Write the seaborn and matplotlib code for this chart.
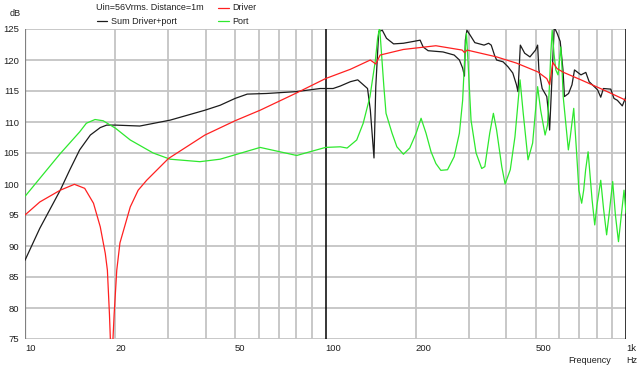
import numpy as np
import pandas as pd
import matplotlib
matplotlib.use("Agg")
import matplotlib.pyplot as plt
import seaborn as sns
from matplotlib.lines import Line2D

# Driver alone (Hz, dB)
driver = [(10, 95.0), (11.2, 97.1), (13.1, 99.0), (14.6, 99.95), (15.8, 99.3), (16.9, 96.9),
          (17.8, 93.1), (18.5, 88.8), (18.8, 86.1), (19.1, 79.0), (19.4, 70.0), (19.8, 79.0),
          (20.2, 86.1), (20.7, 90.5), (22.4, 96.3), (23.8, 99.0), (25.4, 100.6), (30, 104.1),
          (39.7, 107.9), (50, 110.2), (60.6, 111.9), (80.2, 114.7), (100, 117.0), (121, 118.5),
          (141, 120.0), (147, 119.35), (152, 120.8), (181.6, 121.7), (233, 122.3), (285, 121.6),
          (290, 121.2), (296, 121.6), (371, 120.5), (432, 119.5), (508, 118.1), (545, 117.0),
          (557, 116.0), (571, 119.6), (590, 118.6), (620, 118.0), (708, 116.8), (840, 115.2),
          (1000, 113.5)]

# Sum driver + port
total = [(10, 87.7), (11.2, 92.85), (13.1, 99.0), (14.1, 102.3), (15.2, 105.5), (16.5, 107.9),
         (17.8, 109.1), (18.7, 109.5), (20, 109.5), (24.1, 109.35), (30.4, 110.3), (39.7, 111.9),
         (44.6, 112.7), (50, 113.8), (54.9, 114.5), (63.7, 114.6), (80, 114.9), (96, 115.4),
         (106, 115.4), (112, 115.8), (121, 116.5), (128, 116.8), (138, 115.4), (141, 111.9),
         (145, 104.2), (147, 115.7), (150.4, 124.6), (154.5, 124.8), (159.6, 123.5),
         (168.5, 122.6), (181.6, 122.7), (196.4, 123.0), (206.5, 123.2), (211.3, 122.1),
         (219.5, 121.5), (246, 121.3), (268, 120.8), (279, 120.0), (286, 118.7), (290, 117.4),
         (292, 123.2), (295.5, 124.8), (303, 124.0), (314, 122.8), (337, 122.4), (349, 122.7),
         (356, 122.4), (365, 120.8), (371, 120.0), (390, 119.7), (405, 118.9), (420, 117.9),
         (432, 116.0), (437, 114.9), (445, 122.4), (460, 121.1), (479, 120.5), (500, 121.6),
         (508, 122.4), (513, 118.4), (526, 115.4), (545, 114.1), (552, 111.5), (557, 108.7),
         (566, 116.2), (577, 125.3), (590, 124.3), (604, 123.0), (617, 118.4), (624, 114.1),
         (644, 114.6), (661, 116.0), (674, 118.4), (708, 117.6), (735, 118.0), (754, 116.5),
         (804, 115.2), (824, 114.0), (841, 115.4), (890, 115.3), (912, 113.8), (936, 113.5),
         (972, 112.6), (1000, 114.1)]

# Port alone
port = [(10, 98.0), (11.2, 100.9), (13.1, 104.9), (15.2, 108.4), (16.0, 109.8), (17.1, 110.4),
        (18.2, 110.2), (20, 109.0), (22.4, 107.1), (26.7, 105.0), (30.4, 104.0), (38.2, 103.6),
        (44.6, 104.0), (60.6, 105.9), (80.2, 104.6), (100, 105.9), (112, 106.0), (118, 105.8),
        (127, 107.1), (133.5, 109.8), (140.6, 114.1), (146.6, 120.0), (149, 123.4),
        (151.4, 125.3), (156.4, 115.7), (159, 111.4), (166.5, 108.2), (172.8, 106.0),
        (181.7, 104.8), (190.7, 105.8), (200.3, 108.2), (208, 110.6), (216, 108.2),
        (224.5, 105.2), (233, 103.3), (242, 102.2), (254.7, 102.3), (268, 104.4), (279, 108.2),
        (286, 113.5), (291, 121.1), (294.5, 124.3), (299, 118.4), (305, 110.3), (317, 105.0),
        (331, 102.5), (339, 102.8), (352, 108.2), (362, 111.4), (371, 108.7), (386, 102.8),
        (396, 100.0), (412, 102.3), (427, 107.6), (444, 116.8), (455, 111.4), (472, 103.9),
        (489, 106.6), (508, 115.7), (520, 111.9), (538, 107.9), (548, 109.5), (556, 115.7),
        (562, 121.0), (568, 124.8), (576, 121.0), (584, 118.4), (594, 117.6), (607, 122.1),
        (612, 119.0), (618, 114.1), (635, 108.2), (643, 105.5), (652, 107.5), (670, 112.2),
        (685, 105.0), (697, 99.0), (712, 96.9), (723, 99.0), (734, 102.3), (748, 105.2),
        (771, 97.5), (787, 93.4), (800, 96.5), (824, 100.6), (842, 96.0), (862, 91.8),
        (878, 95.0), (903, 100.4), (922, 95.0), (944, 90.7), (965, 95.0), (985, 99.0),
        (1000, 95.3)]

grid_f = [20, 30, 40, 50, 60, 70, 80, 90, 200, 300, 400, 500, 600, 700, 800, 900]
grid_db = [75, 80, 85, 90, 95, 100, 105, 110, 115, 120, 125]
tick_f = [10, 20, 50, 100, 200, 500, 1000]
tick_lab = ["10", "20", "50", "100", "200", "500", "1k"]

sns.set_style("white")
plt.rcParams['font.family'] = ['Liberation Sans', 'DejaVu Sans']

W, H = 640, 366
fig = plt.figure(figsize=(W / 100, H / 100), dpi=100)
ax = fig.add_axes([25 / W, 1 - 339 / H, (626 - 25) / W, (339 - 29) / H])

gray = '#c4c4c4'
for f in grid_f:
    ax.axvline(f, color=gray, lw=1.3, zorder=0)
for d in grid_db:
    ax.axhline(d, color=gray, lw=1.3, zorder=0)
ax.axvline(100, color='black', lw=1.1, zorder=1)
ax.axvline(1000, color='black', lw=1.1, zorder=1)
ax.axvline(10, color='#808080', lw=1.6, zorder=1)

colors = {'sum': '#1c1c1c', 'port': '#2ee82e', 'driver': '#ff2020'}
for name, pts, z in [('sum', total, 3), ('port', port, 4), ('driver', driver, 5)]:
    d = pd.DataFrame(pts, columns=['freq', 'db'])
    sns.lineplot(data=d, x='freq', y='db', color=colors[name], lw=0.9,
                 estimator=None, ax=ax, zorder=z)

ax.set_xscale('log')
ax.set_xlim(10, 1000)
ax.set_ylim(75, 125)
ax.minorticks_off()
ax.set_xticks(tick_f)
ax.set_xticklabels(tick_lab, ha='left')
ax.set_yticks(grid_db)
ax.set_yticklabels([str(v) for v in grid_db])
ax.tick_params(axis='both', length=0, labelsize=6.8, colors='#202020')
ax.tick_params(axis='x', pad=3.5)
ax.tick_params(axis='y', pad=4)
for s in ax.spines.values():
    s.set_visible(False)
ax.set_xlabel('')
ax.set_ylabel('')

def px(x, y):
    return x / W, 1 - y / H

tc = '#202020'
fs = 6.5
fig.text(*px(10, 14), 'dB', fontsize=fs, color=tc, va='center')
fig.text(*px(96, 8), 'Uin=56Vrms. Distance=1m', fontsize=fs, color=tc, va='center')
fig.text(*px(232, 8), 'Driver', fontsize=fs, color=tc, va='center')
fig.text(*px(111, 21), 'Sum Driver+port', fontsize=fs, color=tc, va='center')
fig.text(*px(232, 21), 'Port', fontsize=fs, color=tc, va='center')
fig.text(*px(568, 360.5), 'Frequency', fontsize=fs, color=tc, va='center')
fig.text(*px(626, 360.5), 'Hz', fontsize=fs, color=tc, va='center')

for (y, c) in [(7.5, colors['driver']), (21, colors['port'])]:
    fig.add_artist(Line2D([218 / W, 229 / W], [1 - y / H, 1 - y / H], color=c, lw=0.9))
fig.add_artist(Line2D([97 / W, 107 / W], [1 - 21 / H, 1 - 21 / H], color=colors['sum'], lw=0.9))

fig.savefig('out.png', dpi=100, facecolor='white')
